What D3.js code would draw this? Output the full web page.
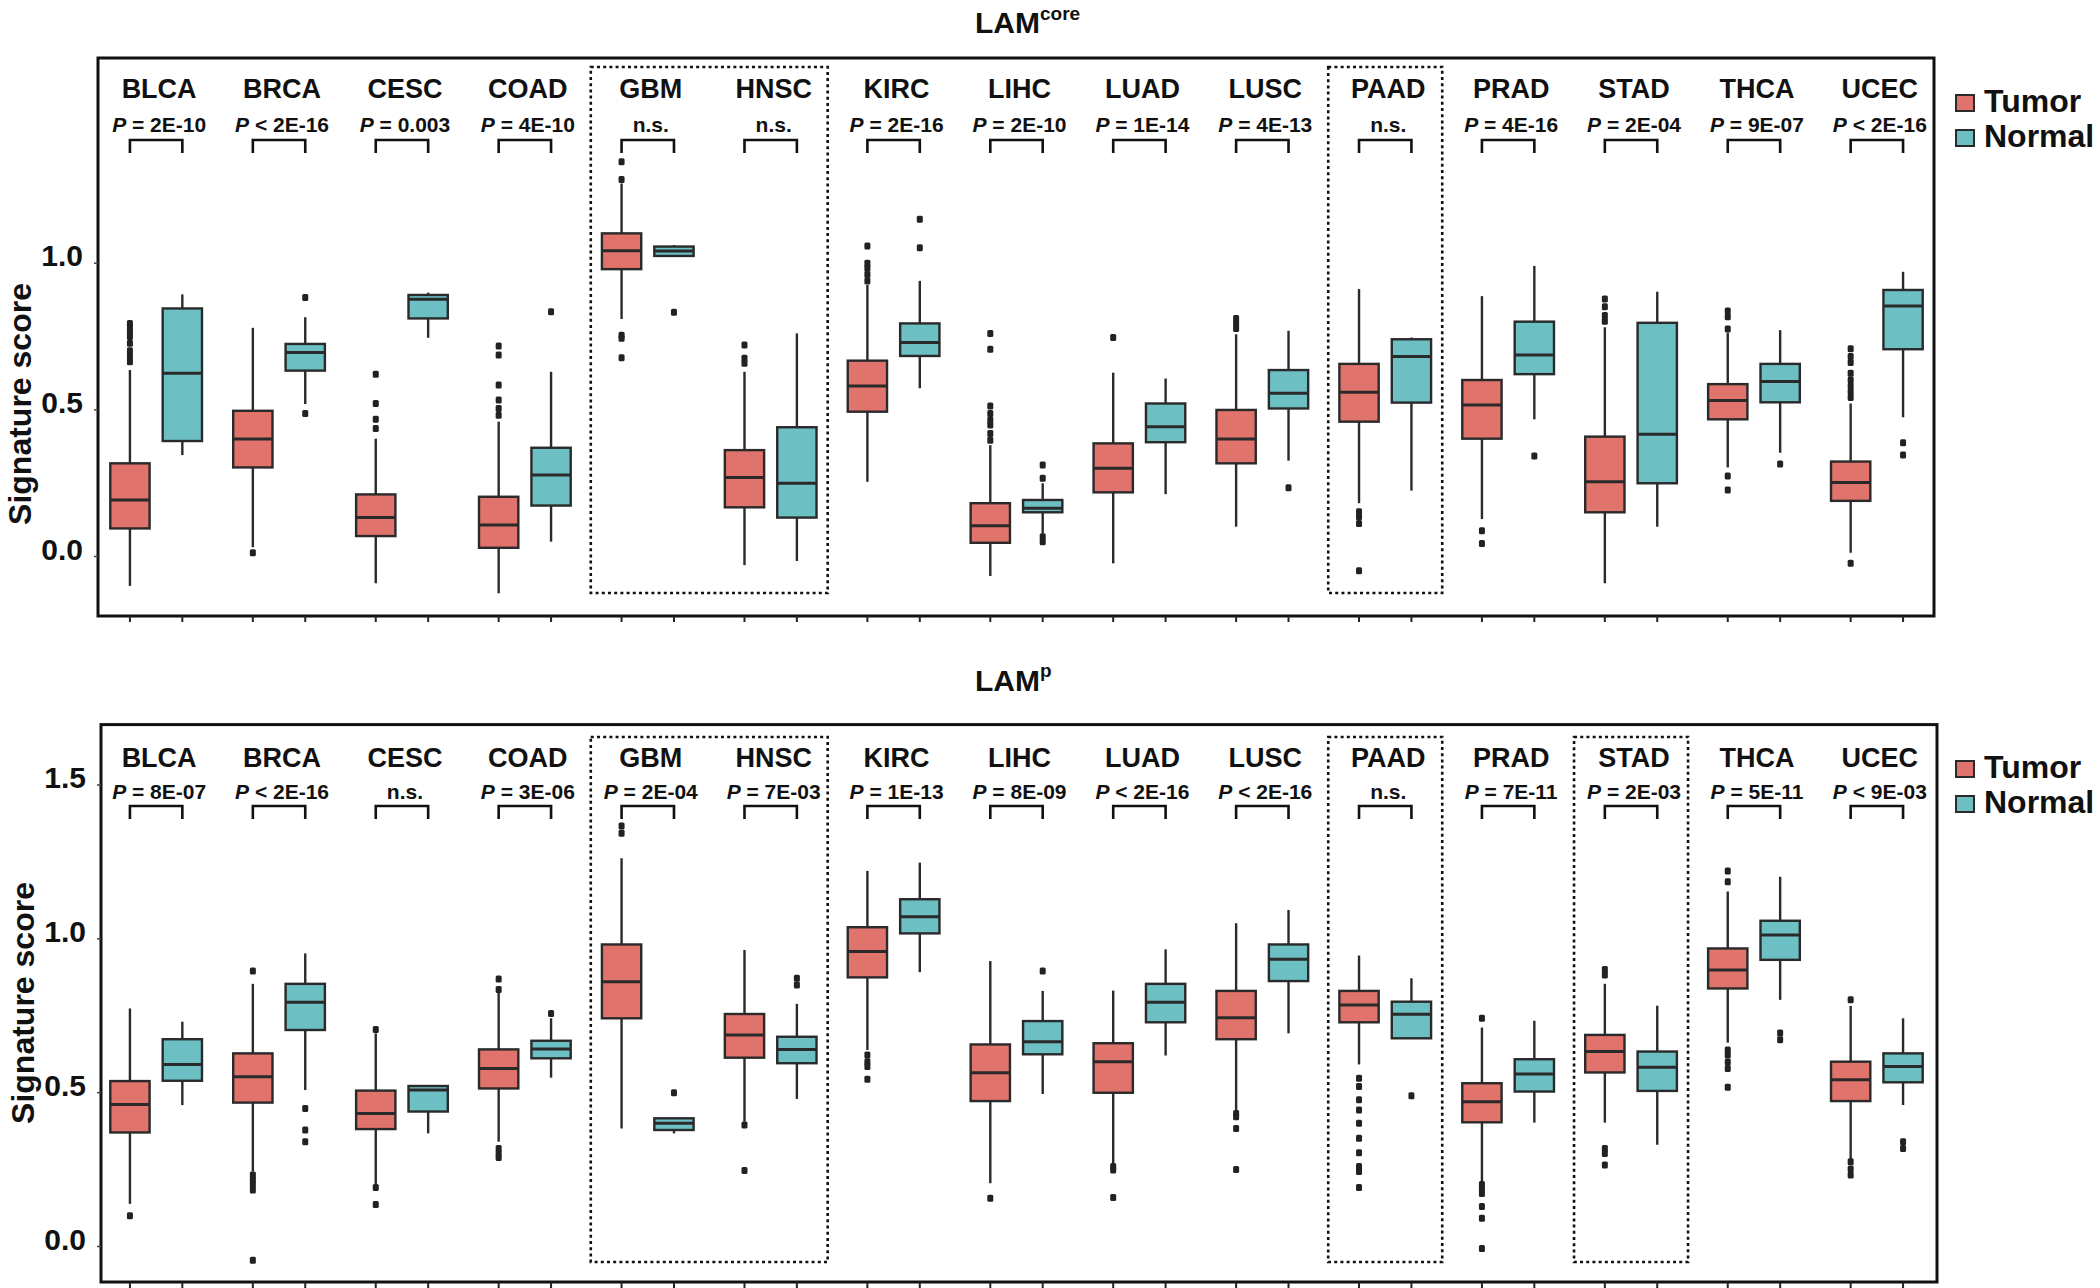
<!DOCTYPE html>
<html lang="en">
<head>
  <meta charset="UTF-8">
  <title>LAM signature scores, tumor vs normal</title>
  <script src="https://d3js.org/d3.v7.min.js"></script>
  <style>
    body { margin: 0; background: #fff; }
    svg text { font-family: "Liberation Sans", Arial, sans-serif; font-weight: bold; fill: #111; }
  </style>
</head>
<body>
  <svg id="chart" width="2100" height="1288"></svg>
  <script>
    // Cancer types (x categories) and groups
    const categories = ["BLCA", "BRCA", "CESC", "COAD", "GBM", "HNSC", "KIRC", "LIHC",
                        "LUAD", "LUSC", "PAAD", "PRAD", "STAD", "THCA", "UCEC"];
    const groups = ["Tumor", "Normal"];

    // LAM-core panel: box stats [whiskerLow, q1, median, q3, whiskerHigh]
    const coreTumor = [
      [-0.102, 0.094, 0.191, 0.316, 0.634], [0.030, 0.302, 0.399, 0.495, 0.778],
      [-0.093, 0.068, 0.131, 0.210, 0.400], [-0.127, 0.028, 0.106, 0.202, 0.458],
      [0.808, 0.978, 1.041, 1.100, 1.270], [-0.031, 0.166, 0.268, 0.361, 0.628],
      [0.253, 0.492, 0.580, 0.666, 0.924], [-0.068, 0.045, 0.103, 0.180, 0.378],
      [-0.025, 0.217, 0.299, 0.384, 0.625], [0.100, 0.316, 0.399, 0.498, 0.756],
      [0.180, 0.458, 0.558, 0.655, 0.910], [0.126, 0.400, 0.515, 0.600, 0.886],
      [-0.093, 0.149, 0.253, 0.407, 0.780], [0.302, 0.466, 0.530, 0.586, 0.761],
      [0.011, 0.188, 0.251, 0.322, 0.520]
    ];
    const coreNormal = [
      [0.344, 0.392, 0.623, 0.844, 0.892], [0.518, 0.632, 0.694, 0.723, 0.814],
      [0.744, 0.810, 0.875, 0.890, 0.898], [0.049, 0.172, 0.276, 0.369, 0.628],
      [1.023, 1.023, 1.040, 1.055, 1.060], [-0.017, 0.131, 0.248, 0.439, 0.759],
      [0.572, 0.682, 0.728, 0.793, 0.938], [0.077, 0.149, 0.163, 0.191, 0.248],
      [0.211, 0.388, 0.441, 0.520, 0.605], [0.325, 0.503, 0.555, 0.634, 0.768],
      [0.223, 0.523, 0.680, 0.739, 0.745], [0.466, 0.620, 0.685, 0.799, 0.989],
      [0.100, 0.248, 0.415, 0.795, 0.901], [0.352, 0.524, 0.595, 0.655, 0.770],
      [0.473, 0.705, 0.852, 0.907, 0.969]
    ];
    const coreTumorOut = [
      [0.662, 0.680, 0.700, 0.725, 0.748, 0.765, 0.780, 0.793], [0.011],
      [0.620, 0.520, 0.466, 0.435], [0.716, 0.685, 0.583, 0.532, 0.503, 0.480],
      [1.344, 1.284, 0.753, 0.742, 0.676], [0.719, 0.674, 0.657],
      [1.057, 0.998, 0.981, 0.960, 0.938],
      [0.759, 0.705, 0.511, 0.486, 0.464, 0.447, 0.418, 0.395],
      [0.745], [0.810, 0.793, 0.776], [0.151, 0.134, 0.111, -0.050], [0.086, 0.043],
      [0.876, 0.850, 0.820, 0.800], [0.835, 0.816, 0.774, 0.273, 0.225],
      [0.707, 0.680, 0.660, 0.623, 0.600, 0.580, 0.560, 0.540, -0.025]
    ];
    const coreNormalOut = [
      [], [0.881, 0.486], [], [0.833], [0.831], [], [1.148, 1.051],
      [0.310, 0.265, 0.066, 0.049], [], [0.233], [], [0.341], [], [0.314], [0.386, 0.344]
    ];
    const coreP = ["= 2E-10", "< 2E-16", "= 0.003", "= 4E-10", "n.s.", "n.s.", "= 2E-16",
                   "= 2E-10", "= 1E-14", "= 4E-13", "n.s.", "= 4E-16", "= 2E-04",
                   "= 9E-07", "< 2E-16"];
    const coreFramed = [["GBM", "HNSC"], ["PAAD", "PAAD"]];
    const coreTicks = [0, 0.5, 1.0];

    // LAM-p panel
    const pTumor = [
      [0.137, 0.369, 0.460, 0.536, 0.772], [0.242, 0.466, 0.550, 0.626, 0.852],
      [0.193, 0.380, 0.431, 0.505, 0.691], [0.339, 0.512, 0.577, 0.639, 0.827],
      [0.382, 0.740, 0.859, 0.980, 1.260], [0.404, 0.612, 0.686, 0.754, 0.962],
      [0.637, 0.873, 0.957, 1.036, 1.219], [0.204, 0.471, 0.563, 0.655, 0.926],
      [0.269, 0.498, 0.599, 0.659, 0.830], [0.440, 0.672, 0.742, 0.829, 1.049],
      [0.590, 0.727, 0.783, 0.829, 0.944], [0.211, 0.402, 0.469, 0.529, 0.710],
      [0.401, 0.564, 0.632, 0.686, 0.852], [0.661, 0.837, 0.897, 0.967, 1.152],
      [0.280, 0.471, 0.540, 0.599, 0.780]
    ];
    const pNormal = [
      [0.458, 0.537, 0.590, 0.672, 0.729], [0.507, 0.702, 0.792, 0.852, 0.951],
      [0.366, 0.437, 0.507, 0.520, 0.523], [0.547, 0.610, 0.640, 0.667, 0.740],
      [0.366, 0.377, 0.399, 0.415, 0.415], [0.478, 0.594, 0.639, 0.680, 0.787],
      [0.890, 1.016, 1.070, 1.127, 1.246], [0.494, 0.623, 0.664, 0.731, 0.829],
      [0.619, 0.727, 0.792, 0.852, 0.964], [0.691, 0.861, 0.932, 0.980, 1.092],
      [0.675, 0.675, 0.753, 0.794, 0.870], [0.401, 0.502, 0.559, 0.607, 0.732],
      [0.329, 0.504, 0.581, 0.632, 0.781], [0.800, 0.930, 1.011, 1.057, 1.200],
      [0.458, 0.532, 0.583, 0.626, 0.740]
    ];
    const pTumorOut = [
      [0.098], [0.894, 0.231, 0.215, 0.200, 0.182, -0.046], [0.704, 0.190, 0.135],
      [0.868, 0.834, 0.317, 0.301, 0.288], [1.365, 1.341], [0.393, 0.245],
      [0.621, 0.599, 0.583, 0.542], [0.155], [0.258, 0.247, 0.158],
      [0.431, 0.420, 0.382, 0.249],
      [0.545, 0.518, 0.475, 0.442, 0.399, 0.350, 0.303, 0.258, 0.242, 0.190],
      [0.740, 0.200, 0.183, 0.171, 0.128, 0.090, -0.008],
      [0.899, 0.881, 0.317, 0.301, 0.263],
      [1.219, 1.184, 0.637, 0.621, 0.598, 0.577, 0.516],
      [0.800, 0.274, 0.250, 0.231]
    ];
    const pNormalOut = [
      [], [0.447, 0.377, 0.339], [], [0.756], [0.498], [0.870, 0.848], [], [0.894],
      [], [], [0.488], [], [], [0.692, 0.670], [0.339, 0.317]
    ];
    const pP = ["= 8E-07", "< 2E-16", "n.s.", "= 3E-06", "= 2E-04", "= 7E-03", "= 1E-13",
                "= 8E-09", "< 2E-16", "< 2E-16", "n.s.", "= 7E-11", "= 2E-03",
                "= 5E-11", "< 9E-03"];
    const pFramed = [["GBM", "HNSC"], ["PAAD", "PAAD"], ["STAD", "STAD"]];
    const pTicks = [0, 0.5, 1.0, 1.5];

    const colors = {Tumor: "#E0736B", Normal: "#6CBFC2"};
    const ink = "#2a2a2a";

    const svg = d3.select("#chart");

    // shared x scales
    const x = d3.scalePoint().domain(categories).range([98, 1935]).padding(0.473);
    const dodge = d3.scaleBand().domain(groups).range([-52.4, 52.4]);
    const boxW = dodge.bandwidth() * 0.75;
    const cxOf = (c, s) => x(c) + dodge(s) + dodge.bandwidth() / 2;

    const panels = [
      {title: "LAM", sup: "core", supDy: -13, titleY: 33,
       frame: [98, 58, 1934, 616], zeroY: 556, oneY: 262.7, ticks: coreTicks,
       tumor: coreTumor, normal: coreNormal, tumorOut: coreTumorOut, normalOut: coreNormalOut,
       pvals: coreP, framed: coreFramed, nameY: 98, pY: 132, brTop: 140, brBot: 153,
       dotTop: 67, dotBot: 593, yTitleY: 404, legendY: 112},
      {title: "LAM", sup: "p", supDy: -14, titleY: 691,
       frame: [101, 724.6, 1937, 1282], zeroY: 1246, oneY: 938.3, ticks: pTicks,
       tumor: pTumor, normal: pNormal, tumorOut: pTumorOut, normalOut: pNormalOut,
       pvals: pP, framed: pFramed, nameY: 767, pY: 799, brTop: 806, brBot: 819,
       dotTop: 737, dotBot: 1262, yTitleY: 1003, legendY: 778}
    ];

    panels.forEach(p => {
      const g = svg.append("g");
      const y = d3.scaleLinear().domain([0, 1]).range([p.zeroY, p.oneY]);
      const [fx0, fy0, fx1, fy1] = p.frame;

      // title with superscript
      const t = g.append("text").attr("x", 975).attr("y", p.titleY)
        .attr("font-size", 30).text(p.title);
      t.append("tspan").attr("font-size", 19).attr("dy", p.supDy).text(p.sup);

      // dotted highlight frames
      g.append("g").selectAll("rect")
        .data(p.framed)
        .join("rect")
        .attr("x", d => x(d[0]) - 57)
        .attr("y", p.dotTop)
        .attr("width", d => x(d[1]) - x(d[0]) + 114)
        .attr("height", p.dotBot - p.dotTop)
        .attr("fill", "none")
        .attr("stroke", "#111")
        .attr("stroke-width", 2.6)
        .attr("stroke-dasharray", "3,3.2");

      // cancer type names and p-values
      g.append("g").selectAll("text")
        .data(categories)
        .join("text")
        .attr("x", d => x(d) + 3)
        .attr("y", p.nameY)
        .attr("text-anchor", "middle")
        .attr("font-size", 27)
        .text(d => d);

      const pv = g.append("g").selectAll("text")
        .data(p.pvals)
        .join("text")
        .attr("x", (d, i) => x(categories[i]) + 3)
        .attr("y", p.pY)
        .attr("text-anchor", "middle")
        .attr("font-size", 21);
      pv.filter(d => d !== "n.s.").append("tspan").attr("font-style", "italic").text("P");
      pv.append("tspan").text(d => d === "n.s." ? d : " " + d);

      // brackets
      g.append("g").selectAll("path")
        .data(categories)
        .join("path")
        .attr("d", c => `M${cxOf(c, "Tumor")},${p.brBot}V${p.brTop}H${cxOf(c, "Normal")}V${p.brBot}`)
        .attr("fill", "none")
        .attr("stroke", "#111")
        .attr("stroke-width", 2.6);

      // boxes
      groups.forEach(s => {
        const stats = s === "Tumor" ? p.tumor : p.normal;
        const outs = s === "Tumor" ? p.tumorOut : p.normalOut;
        const rows = categories.map((c, i) => ({c, s: stats[i], o: outs[i]}));
        const bg = g.append("g");

        bg.selectAll("line.whisker")
          .data(rows)
          .join("line")
          .attr("class", "whisker")
          .attr("x1", d => cxOf(d.c, s)).attr("x2", d => cxOf(d.c, s))
          .attr("y1", d => y(d.s[0])).attr("y2", d => y(d.s[4]))
          .attr("stroke", ink).attr("stroke-width", 2.4);

        bg.selectAll("rect.box")
          .data(rows)
          .join("rect")
          .attr("class", "box")
          .attr("x", d => cxOf(d.c, s) - boxW / 2)
          .attr("y", d => y(d.s[3]))
          .attr("width", boxW)
          .attr("height", d => Math.max(1, y(d.s[1]) - y(d.s[3])))
          .attr("fill", colors[s])
          .attr("stroke", ink).attr("stroke-width", 2.4);

        bg.selectAll("line.median")
          .data(rows)
          .join("line")
          .attr("class", "median")
          .attr("x1", d => cxOf(d.c, s) - boxW / 2).attr("x2", d => cxOf(d.c, s) + boxW / 2)
          .attr("y1", d => y(d.s[2])).attr("y2", d => y(d.s[2]))
          .attr("stroke", ink).attr("stroke-width", 3);

        const pts = rows.flatMap(d => d.o.map(v => ({c: d.c, v})));
        bg.selectAll("rect.out")
          .data(pts)
          .join("rect")
          .attr("class", "out")
          .attr("x", d => cxOf(d.c, s) - 3)
          .attr("y", d => y(d.v) - 3.5)
          .attr("width", 6).attr("height", 7).attr("rx", 1.5)
          .attr("fill", "#222");
      });

      // frame
      g.append("rect")
        .attr("x", fx0).attr("y", fy0)
        .attr("width", fx1 - fx0).attr("height", fy1 - fy0)
        .attr("fill", "none").attr("stroke", "#111").attr("stroke-width", 3);

      // x ticks (no labels)
      g.append("g").selectAll("line")
        .data(categories.flatMap(c => groups.map(s => cxOf(c, s))))
        .join("line")
        .attr("x1", d => d).attr("x2", d => d)
        .attr("y1", fy1).attr("y2", fy1 + 6)
        .attr("stroke", "#222").attr("stroke-width", 2);

      // y axis
      const ax = g.append("g")
        .attr("transform", `translate(${fx0},0)`)
        .call(d3.axisLeft(y).tickValues(p.ticks).tickSize(4).tickPadding(11)
          .tickFormat(d3.format(".1f")));
      ax.select(".domain").remove();
      ax.selectAll(".tick line").attr("stroke", "#444").attr("stroke-width", 1.5);
      ax.selectAll(".tick text")
        .attr("font-size", 30)
        .attr("font-family", "'Liberation Sans', Arial, sans-serif")
        .attr("dy", "0.1em")
        .attr("fill", "#111");

      g.append("text")
        .attr("transform", `translate(${fx0 - 67},${p.yTitleY}) rotate(-90)`)
        .attr("text-anchor", "middle")
        .attr("font-size", 32)
        .text("Signature score");

      // legend
      const lg = g.append("g").selectAll("g")
        .data(groups)
        .join("g")
        .attr("transform", (d, i) => `translate(1956,${p.legendY + i * 35})`);
      lg.append("rect")
        .attr("x", 0).attr("y", -17).attr("width", 18).attr("height", 16)
        .attr("fill", d => colors[d]).attr("stroke", ink).attr("stroke-width", 2);
      lg.append("text")
        .attr("x", 28).attr("y", 0)
        .attr("font-size", 32)
        .text(d => d);
    });
  </script>
</body>
</html>
